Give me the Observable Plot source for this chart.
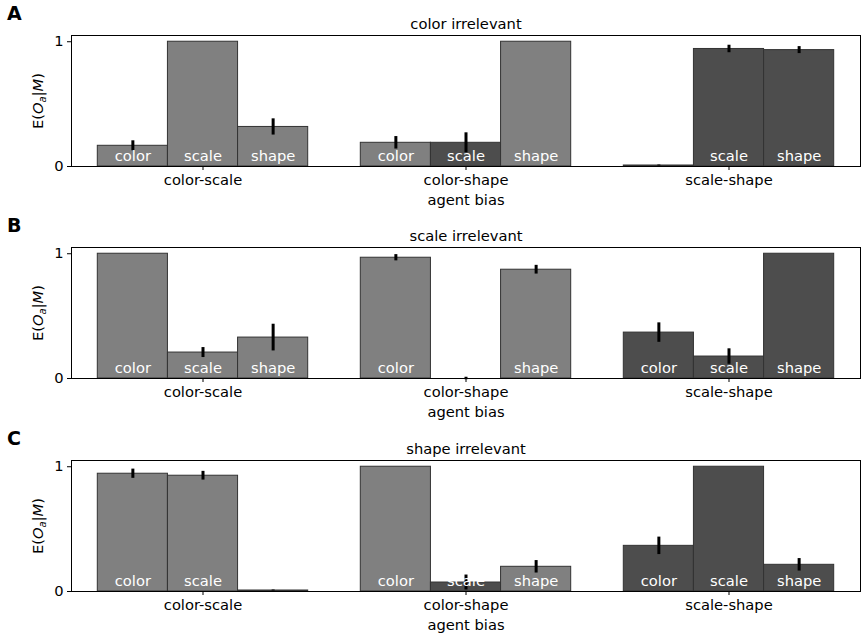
<!DOCTYPE html>
<html><head><meta charset="utf-8">
<script src="https://cdn.jsdelivr.net/npm/d3@7"></script>
<script src="https://cdn.jsdelivr.net/npm/@observablehq/plot@0.6"></script>
<style>
body{margin:0;background:#fff;font-family:"DejaVu Sans",sans-serif;}
#fig{position:relative;width:866px;height:639px;overflow:hidden;background:#fff;}
.panel{position:absolute;left:0;width:866px;height:212px;}
.panel svg{position:absolute;left:0;top:0;}
.letter{position:absolute;left:7px;top:4px;font-weight:bold;font-size:19px;line-height:1;}
.ylab{position:absolute;left:38.5px;top:100.5px;transform:translate(-50%,-50%) rotate(-90deg);font-size:14.7px;white-space:nowrap;line-height:1;}
.ylab sub{font-size:10px;vertical-align:-3px;}
</style></head>
<body><div id="fig"></div>
<script>
const groups = ["color-scale", "color-shape", "scale-shape"];
const features = ["color", "scale", "shape"];
const panelLetters = ["A", "B", "C"];
const panelTitles = ["color irrelevant", "scale irrelevant", "shape irrelevant"];
const xAxisLabel = "agent bias";
const yTicks = [0, 1];

// rows = groups, columns = features
const valuesA = [[0.166, 1.0, 0.317], [0.19, 0.19, 1.0], [0.008, 0.942, 0.933]];
const errorsA = [[0.04, 0, 0.065], [0.05, 0.08, 0], [0.004, 0.03, 0.028]];
const shadesA = [["light", "light", "light"], ["light", "dark", "light"], ["dark", "dark", "dark"]];

const valuesB = [[1.0, 0.208, 0.328], [0.968, 0.0, 0.872], [0.368, 0.176, 1.0]];
const errorsB = [[0, 0.04, 0.107], [0.025, 0.01, 0.035], [0.078, 0.062, 0]];
const shadesB = [["light", "light", "light"], ["light", "dark", "light"], ["dark", "dark", "dark"]];

const valuesC = [[0.944, 0.928, 0.008], [1.0, 0.072, 0.198], [0.366, 1.0, 0.214]];
const errorsC = [[0.037, 0.035, 0.004], [0, 0.06, 0.05], [0.07, 0, 0.05]];
const shadesC = [["light", "light", "light"], ["light", "dark", "light"], ["dark", "dark", "dark"]];

const panels = [
  {values: valuesA, errors: errorsA, shades: shadesA},
  {values: valuesB, errors: errorsB, shades: shadesB},
  {values: valuesC, errors: errorsC, shades: shadesC}
];
const panelTops = [0, 212, 425];

const w = 0.8 / 3;
function buildRows(p) {
  const out = [];
  groups.forEach((g, gi) => features.forEach((f, fi) => {
    const c = gi + (fi - 1) * w;
    out.push({group: g, feature: f, x1: c - w / 2, x2: c + w / 2, xc: c,
      value: p.values[gi][fi], err: p.errors[gi][fi], shade: p.shades[gi][fi]});
  }));
  return out;
}

const fig = document.getElementById("fig");
panels.forEach((p, i) => {
  const data = buildRows(p);
  const div = document.createElement("div");
  div.className = "panel";
  div.style.top = panelTops[i] + "px";
  const chart = Plot.plot({
    width: 866, height: 212,
    marginTop: 35, marginBottom: 46, marginLeft: 71, marginRight: 6,
    x: {domain: [-0.5, 2.5]},
    y: {domain: [0, 1.05]},
    color: {domain: ["light", "dark"], range: ["#808080", "#4d4d4d"]},
    style: {fontFamily: "DejaVu Sans", fontSize: "14.7px", background: "transparent", color: "black", overflow: "visible"},
    marks: [
      Plot.rect(data, {x1: "x1", x2: "x2", y1: 0, y2: "value", fill: "shade", stroke: "#333", strokeWidth: 1}),
      Plot.ruleX(data.filter(d => d.err > 0), {x: "xc", y1: d => d.value - d.err, y2: d => d.value + d.err, stroke: "black", strokeWidth: 3}),
      Plot.text(data, {x: "xc", y: 0, text: "feature", fill: "white", dy: -10, lineAnchor: "middle", fontSize: 14.7}),
      Plot.frame({stroke: "black", strokeWidth: 1}),
      Plot.axisX({ticks: [0, 1, 2], tickFormat: d => groups[d], tickSize: 4, tickPadding: 4, label: null, fontSize: 14.7}),
      Plot.axisY({ticks: yTicks, tickFormat: d => String(d), tickSize: 4, tickPadding: 4, label: null, fontSize: 14.7}),
      Plot.text([panelTitles[i]], {frameAnchor: "top", dy: -11, lineAnchor: "middle", fontSize: 14.7}),
      Plot.text([xAxisLabel], {frameAnchor: "bottom", dy: 34, lineAnchor: "middle", fontSize: 14.7})
    ]
  });
  div.appendChild(chart);
  const letter = document.createElement("div");
  letter.className = "letter";
  letter.textContent = panelLetters[i];
  div.appendChild(letter);
  const ylab = document.createElement("div");
  ylab.className = "ylab";
  ylab.innerHTML = "E(<i>O</i><sub><i>a</i></sub>|<i>M</i>)";
  div.appendChild(ylab);
  fig.appendChild(div);
});
</script>
</body></html>
